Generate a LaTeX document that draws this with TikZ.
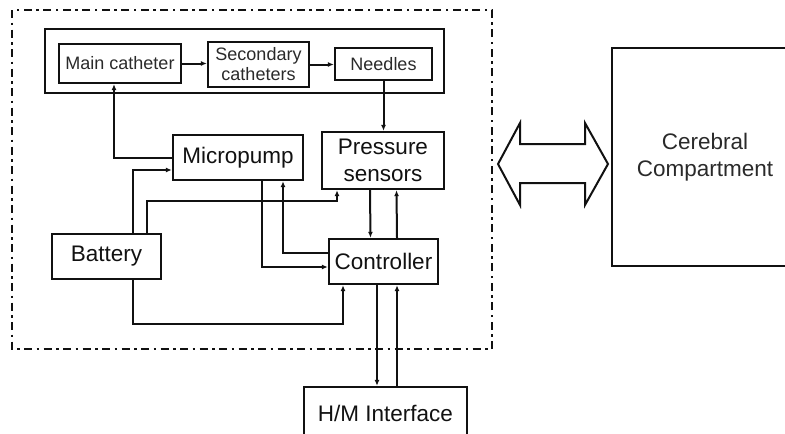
\documentclass[tikz,border=0pt]{standalone}
\usepackage{fontspec}
\setmainfont{Liberation Sans}
\usetikzlibrary{arrows.meta,calc}
\definecolor{inkdark}{HTML}{111111}
\definecolor{inkgray}{HTML}{2A2A2A}
\tikzset{
  unit/.style={draw=inkdark, line width=2.4pt, inner sep=0pt, align=center,
    font=\fontsize{22.5}{27}\selectfont, text=inkdark},
  part/.style={draw=inkdark, line width=2.2pt, inner sep=0pt, align=center,
    font=\fontsize{18}{20}\selectfont, text=inkgray},
  wire/.style={-{Latex[length=6pt,width=5pt]}, line width=2pt, color=inkdark},
  % outer device boundary
  boundary/.style={line width=2.6pt, color=inkdark, dash pattern=on 8pt off 4.5pt on 2.5pt off 4.5pt},
  duplex/.style={line width=2pt, draw=inkdark, line join=miter},
}
\begin{document}
\begin{tikzpicture}[x=1pt,y=-1pt]
  \useasboundingbox (0,0) rectangle (785,434);
  \draw[boundary] (12,10) rectangle (492,349);
  % catheter line
  \node[part, minimum width=399, minimum height=64] (tubes) at (244.5,61) {};
  \node[part, minimum width=122, minimum height=39] (main) at (120,63.5) {Main catheter};
  \node[part, minimum width=101, minimum height=45] (sec) at (258.5,64.5) {Secondary\\catheters};
  \node[part, minimum width=97, minimum height=32] (needles) at (383.5,64) {Needles};
  % functional units
  \node[unit, minimum width=130, minimum height=45] (pump) at (238,157.5) {Micropump};
  \node[unit, minimum width=122, minimum height=57] (press) at (383,160.5) {Pressure\\sensors};
  \node[unit, minimum width=109, minimum height=45] (batt) at (106.5,256.5) {Battery};
  \node[unit, minimum width=109, minimum height=45] (ctrl) at (383.5,261.5) {Controller};
  \node[unit, minimum width=163, minimum height=52] (hm) at (385.5,413) {H/M Interface};
  \node[unit, minimum width=186, minimum height=218, text=inkgray] (brain) at (705,157) {Cerebral\\Compartment};
  % flow along the catheters
  \draw[wire] (main.east) -- (main.east -| sec.west);
  \draw[wire] (sec.east) -- (sec.east -| needles.west);
  \draw[wire] (needles.south) -- (needles.south |- press.north);
  \draw[wire] (pump.west) -| ([xshift=-6]main.south);
  % supply and control
  \draw[wire] ([xshift=26.5]batt.north) |- ([yshift=-12.5]pump.west);
  \draw[wire] ([xshift=40.5]batt.north) -- ++(0,-32) -| ([xshift=-46]press.south);
  \draw[wire] ([xshift=24]pump.south) |- ([yshift=-5.5]ctrl.west);
  \draw[wire] ([yshift=8.5]ctrl.west) -| ([xshift=45]pump.south);
  \draw[wire] ([xshift=-13]press.south) -- ([xshift=-13]ctrl.north);
  \draw[wire] ([xshift=13.5]ctrl.north) -- ([xshift=13.5]press.south);
  \draw[wire] ([xshift=26.5]batt.south) -- ++(0,44) -| ([xshift=-40.5]ctrl.south);
  \draw[wire] ([xshift=-6.5]ctrl.south) -- ([xshift=-6.5]ctrl.south |- hm.north);
  \draw[wire] ([xshift=13.5]ctrl.south |- hm.north) -- ([xshift=13.5]ctrl.south);
  % exchange with the brain
  \draw[duplex] (498,164) -- (520,123) -- (520,144) -- (585,144) -- (585,123)
    -- (608,164) -- (585,205) -- (585,183) -- (520,183) -- (520,205) -- cycle;
\end{tikzpicture}
\end{document}
